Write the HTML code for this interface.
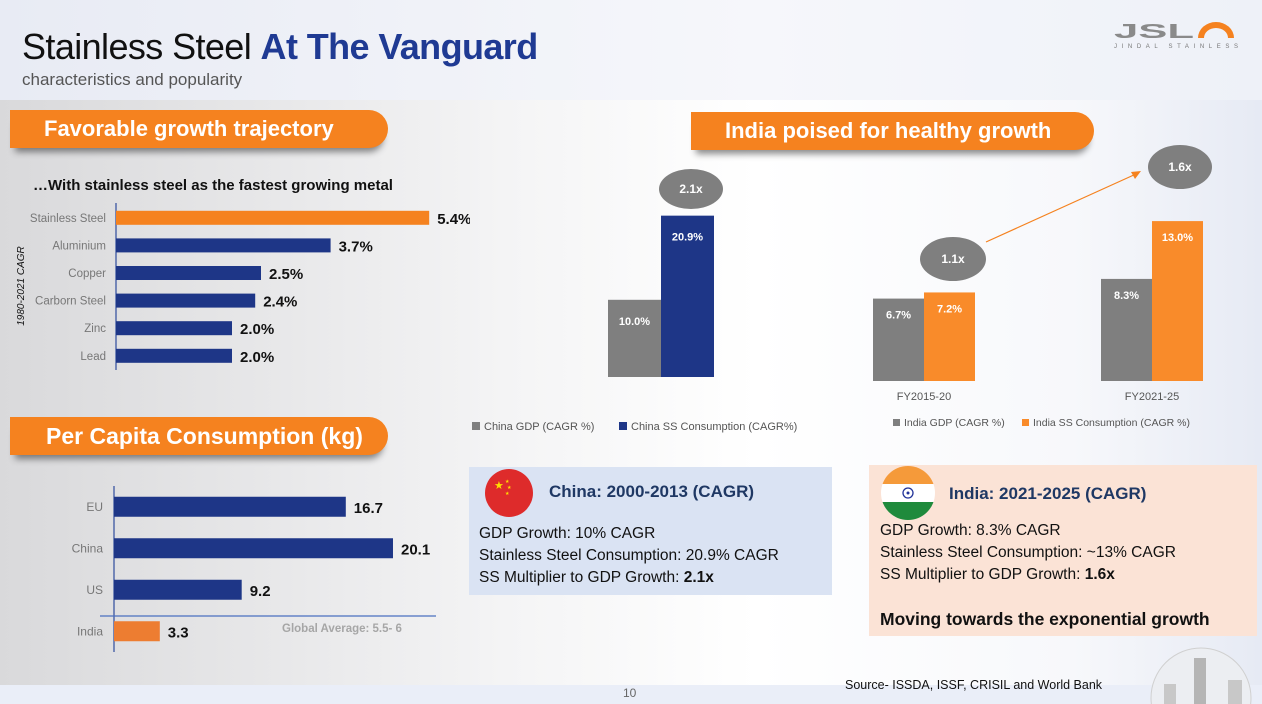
<!DOCTYPE html>
<html><head><meta charset="utf-8">
<style>
html,body{margin:0;padding:0;overflow:hidden}
body{width:1262px;height:704px;position:relative;overflow:hidden;font-family:"Liberation Sans",sans-serif;
background:linear-gradient(90deg,#d9d9db 0%,#f4f4f5 40%,#ffffff 60%,#f7f8fb 85%,#e6eaf4 100%)}
.abs{position:absolute}
.banner{position:absolute;background:#f5821f;color:#fff;font-weight:bold;font-size:22px;border-radius:0 19px 19px 0;box-sizing:border-box;line-height:38px;box-shadow:0 9px 7px -5px rgba(0,0,0,.45)}
</style></head><body>
<div class="abs" style="left:0;top:0;width:1262px;height:100px;background:linear-gradient(90deg,#e8ebf4,#f6f7fb 60%,#eef1f8)"></div>
<div class="abs" style="left:0;top:685px;width:1262px;height:19px;background:#eaeef8"></div>
<div class="abs" style="left:22px;top:26px;font-size:36px;color:#111;white-space:nowrap;letter-spacing:-0.6px">Stainless Steel <b style="color:#1f3a93">At The Vanguard</b></div>
<div class="abs" style="left:22px;top:70px;font-size:17px;color:#555">characteristics and popularity</div>

<svg class="abs" style="left:1110px;top:18px" width="140" height="34">
<text x="4" y="20" font-size="20" font-weight="bold" fill="#8a8a8a" font-family="Liberation Sans" textLength="80" lengthAdjust="spacingAndGlyphs">JSL</text>
<path d="M88 20 A18 16 0 0 1 124 20 L118 20 A12 10 0 0 0 94 20 Z" fill="#f5821f"/>
<text x="4" y="30" font-size="6" fill="#777" font-family="Liberation Sans" textLength="124" lengthAdjust="spacing">JINDAL STAINLESS</text>
</svg>

<div class="banner" style="left:10px;top:110px;width:378px;height:38px;padding-left:34px">Favorable growth trajectory</div>
<div class="banner" style="left:10px;top:417px;width:378px;height:38px;padding-left:36px;font-size:23px">Per Capita Consumption (kg)</div>
<div class="banner" style="left:691px;top:112px;width:403px;height:38px;padding-left:34px">India poised for healthy growth</div>

<div class="abs" style="left:33px;top:177px;font-size:15px;font-weight:bold;color:#111">…With stainless steel as the fastest growing metal</div>

<svg class="abs" id="metals" style="left:0;top:0" width="470" height="400"></svg>
<svg class="abs" id="capita" style="left:0;top:0" width="470" height="700"></svg>
<svg class="abs" id="china" style="left:0;top:0" width="850" height="440"></svg>
<svg class="abs" id="india" style="left:0;top:0" width="1262" height="440"></svg>

<div class="abs" style="left:469px;top:467px;width:363px;height:128px;background:#dae3f3"></div>
<svg class="abs" style="left:485px;top:469px" width="48" height="48">
<circle cx="24" cy="24" r="24" fill="#de2b2b"/><text x="9" y="20" font-size="11" fill="#ffde00">★</text><text x="20" y="14" font-size="5" fill="#ffde00">★</text><text x="22" y="20" font-size="5" fill="#ffde00">★</text><text x="20" y="26" font-size="5" fill="#ffde00">★</text></svg>
<div class="abs" style="left:549px;top:482px;font-size:17px;font-weight:bold;color:#1f3864">China: 2000-2013 (CAGR)</div>
<div class="abs" style="left:479px;top:523px;font-size:15.5px;line-height:22px;color:#111">GDP Growth: 10% CAGR<br>Stainless Steel Consumption: 20.9% CAGR<br>SS Multiplier to GDP Growth: <b>2.1x</b></div>

<div class="abs" style="left:869px;top:465px;width:388px;height:171px;background:#fbe3d6"></div>
<svg class="abs" style="left:881px;top:466px" width="54" height="54">
<clipPath id="fc"><circle cx="27" cy="27" r="27"/></clipPath><g clip-path="url(#fc)"><rect width="54" height="18" fill="#f59a3a"/><rect y="18" width="54" height="18" fill="#fff"/><rect y="36" width="54" height="18" fill="#1f8a3c"/></g><circle cx="27" cy="27" r="5" fill="none" stroke="#223399" stroke-width="1.3"/><circle cx="27" cy="27" r="1.5" fill="#223399"/></svg>
<div class="abs" style="left:949px;top:484px;font-size:17px;font-weight:bold;color:#1f3864">India: 2021-2025 (CAGR)</div>
<div class="abs" style="left:880px;top:520px;font-size:15.5px;line-height:22px;color:#111">GDP Growth: 8.3% CAGR<br>Stainless Steel Consumption: ~13% CAGR<br>SS Multiplier to GDP Growth: <b>1.6x</b></div>
<div class="abs" style="left:880px;top:609px;font-size:17.5px;font-weight:bold;color:#111">Moving towards the exponential growth</div>

<div class="abs" style="left:845px;top:678px;font-size:12.5px;color:#111">Source- ISSDA, ISSF, CRISIL and World Bank</div>
<div class="abs" style="left:623px;top:686px;font-size:12px;color:#666">10</div>
<svg class="abs" style="left:1140px;top:636px" width="122" height="68">
<circle cx="61" cy="62" r="50" fill="#eceef2" stroke="#d0d0d0"/><rect x="54" y="22" width="12" height="46" fill="#b5b5b5"/><rect x="24" y="48" width="12" height="20" fill="#c8c8c8"/><rect x="88" y="44" width="14" height="24" fill="#c8c8c8"/></svg>

<script>
const NS='http://www.w3.org/2000/svg';
function el(svg,tag,attrs,txt){const e=document.createElementNS(NS,tag);for(const k in attrs)e.setAttribute(k,attrs[k]);if(txt!==undefined)e.textContent=txt;svg.appendChild(e);return e;}

// ---- Metals CAGR chart ----
const metalCats=['Stainless Steel','Aluminium','Copper','Carborn Steel','Zinc','Lead'];
const metalVals=[5.4,3.7,2.5,2.4,2.0,2.0];
const metalLabels=['5.4%','3.7%','2.5%','2.4%','2.0%','2.0%'];
(function(){
 const s=document.getElementById('metals');
 const x0=116,px=58,top=204,step=27.6;
 const xs=v=>x0+v*px, yc=i=>top+step*(i+0.5);
 const ax=el(s,'line',{x1:x0,y1:203,x2:x0,y2:370,stroke:'#2f4b9c','stroke-width':1.2});
 
 metalCats.forEach((c,i)=>{
  const b=el(s,'rect',{x:x0,y:yc(i)-7,width:xs(metalVals[i])-x0,height:14,fill:i===0?'#f5821f':'#1e3687'});
  
  const t=el(s,'text',{x:106,y:yc(i)+4,'text-anchor':'end','font-size':11.5,fill:'#777'},c);
  
  const v=el(s,'text',{x:xs(metalVals[i])+8,y:yc(i)+6,'font-size':15,'font-weight':'bold',fill:'#111'},metalLabels[i]);
  
 });
 const r=el(s,'text',{x:0,y:0,'font-size':10,'font-style':'italic',fill:'#111',transform:'translate(24,286) rotate(-90)','text-anchor':'middle'},'1980-2021 CAGR');
 
})();

// ---- Per capita chart ----
const capCats=['EU','China','US','India'];
const capVals=[16.7,20.1,9.2,3.3];
const capLabels=['16.7','20.1','9.2','3.3'];
(function(){
 const s=document.getElementById('capita');
 const x0=114,px=13.88,top=486,step=41.5;
 const xs=v=>x0+v*px, yc=i=>top+step*(i+0.5);
 const ax=el(s,'line',{x1:x0,y1:486,x2:x0,y2:652,stroke:'#2f4b9c','stroke-width':1.2});
 
 capCats.forEach((c,i)=>{
  const b=el(s,'rect',{x:x0,y:yc(i)-10,width:xs(capVals[i])-x0,height:20,fill:c==='India'?'#ed7d31':'#1e3687'});
  
  const t=el(s,'text',{x:103,y:yc(i)+4,'text-anchor':'end','font-size':12,fill:'#777'},c);
  
  const v=el(s,'text',{x:xs(capVals[i])+8,y:yc(i)+6,'font-size':15,'font-weight':'bold',fill:'#111'},capLabels[i]);
  
 });
 const g=el(s,'line',{x1:100,y1:616,x2:436,y2:616,stroke:'#4a6fc0','stroke-width':1.2});
 
 const gt=el(s,'text',{x:282,y:632,'font-size':11.5,'font-weight':'bold',fill:'#a6a6a6'},'Global Average: 5.5- 6');
 
})();

// ---- China chart ----
const chinaSeries=['China GDP (CAGR %)','China SS Consumption (CAGR%)'];
const chinaVals=[10.0,20.9];
const chinaLabels=['10.0%','20.9%'];
const chinaMultiplier='2.1x';
(function(){
 const s=document.getElementById('china');
 const base=377,py=7.72,x0=608,bw=53;
 const colors=['#7f7f7f','#1e3687'];
 chinaVals.forEach((v,i)=>{
  const h=v*py;
  const b=el(s,'rect',{x:x0+i*bw,y:base-h,width:bw,height:h,fill:colors[i]});
  
  const t=el(s,'text',{x:x0+i*bw+bw/2,y:base-h+25,'text-anchor':'middle','font-size':11,'font-weight':'bold',fill:'#fff'},chinaLabels[i]);
  
 });
 const e=el(s,'ellipse',{cx:691,cy:189,rx:32,ry:20,fill:'#7f7f7f'});
 
 const et=el(s,'text',{x:691,y:193,'text-anchor':'middle','font-size':12,'font-weight':'bold',fill:'#fff'},chinaMultiplier);
 
 const lx=[472,619];
 chinaSeries.forEach((n,i)=>{
  const r=el(s,'rect',{x:lx[i],y:422,width:8,height:8,fill:colors[i]});
  
  const t=el(s,'text',{x:lx[i]+12,y:430,'font-size':11,fill:'#555'},n);
  
 });
})();

// ---- India chart ----
const indiaCats=['FY2015-20','FY2021-25'];
const indiaGdp=[6.7,8.3];
const indiaSS=[7.2,13.0];
const indiaGdpLabels=['6.7%','8.3%'];
const indiaSSLabels=['7.2%','13.0%'];
const indiaMultipliers=['1.1x','1.6x'];
const indiaSeries=['India GDP (CAGR %)','India SS Consumption (CAGR %)'];
(function(){
 const s=document.getElementById('india');
 const base=381,py=12.3,bw=51;
 const centers=[924,1152];
 const colors=['#7f7f7f','#f98b2a'];
 indiaCats.forEach((c,i)=>{
  [[indiaGdp,indiaGdpLabels],[indiaSS,indiaSSLabels]].forEach((sr,j)=>{
   const h=sr[0][i]*py, x=centers[i]-bw+j*bw;
   const b=el(s,'rect',{x:x,y:base-h,width:bw,height:h,fill:colors[j]});
   
   const t=el(s,'text',{x:x+bw/2,y:base-h+20,'text-anchor':'middle','font-size':11,'font-weight':'bold',fill:'#fff'},sr[1][i]);
   
  });
  const cl=el(s,'text',{x:centers[i],y:400,'text-anchor':'middle','font-size':11,fill:'#555'},c);
  
 });
 const ar=el(s,'line',{x1:986,y1:242,x2:1136,y2:174,stroke:'#f5821f','stroke-width':1.2});
 
 const ah=el(s,'polygon',{points:'1141,171 1131,172 1135,179',fill:'#f5821f'});
 
 const bub=[[953,259,33,22],[1180,167,32,22]];
 bub.forEach((b,i)=>{
  const e=el(s,'ellipse',{cx:b[0],cy:b[1],rx:b[2],ry:b[3],fill:'#7f7f7f'});
  
  const t=el(s,'text',{x:b[0],y:b[1]+4,'text-anchor':'middle','font-size':12,'font-weight':'bold',fill:'#fff'},indiaMultipliers[i]);
  
 });
 const lx=[893,1022];
 indiaSeries.forEach((n,i)=>{
  const r=el(s,'rect',{x:lx[i],y:419,width:7,height:7,fill:colors[i]});
  
  const t=el(s,'text',{x:lx[i]+11,y:426,'font-size':10.5,fill:'#555'},n);
  
 });
})();
</script>
</body></html>
